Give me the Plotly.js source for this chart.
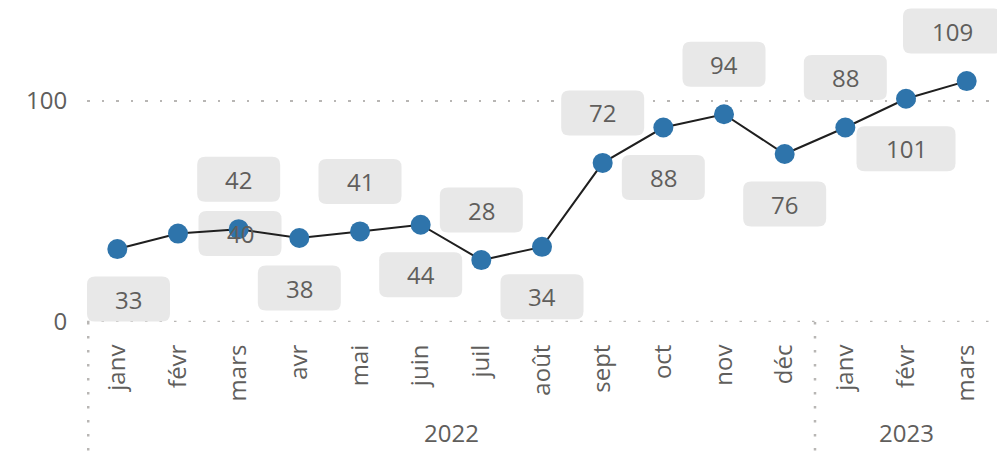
<!DOCTYPE html>
<html>
<head>
<meta charset="utf-8">
<script src="https://cdn.plot.ly/plotly-3.0.1.min.js"></script>
<style>html,body{margin:0;padding:0;background:#fff;}#chart{width:1002px;height:458px;}</style>
</head>
<body>
<div id="chart"></div>
<script>
// ---- data ----
const months = ['janv','févr','mars','avr','mai','juin','juil','août','sept','oct','nov','déc','janv','févr','mars'];
const yearOf = ['2022','2022','2022','2022','2022','2022','2022','2022','2022','2022','2022','2022','2023','2023','2023'];
const values = [33,40,42,38,41,44,28,34,72,88,94,76,88,101,109];
const labelSide = ['below','right','above','below','above','below','above','below','above','below','above','below','above','below','above'];
const yTicks = [0,100];

// ---- layout constants ----
const W = 1002, H = 458;
const M = {l:87, r:5, t:0, b:136};
const plotW = W - M.l - M.r, plotH = H - M.t - M.b;
const catW = plotW / months.length;
const textColor = '#605E5C';
const dotColor = '#B8B6B4';
const fontFam = '"Segoe UI", "Open Sans", sans-serif';
const fs = 24;

const idx = months.map((_, i) => i);

const shapes = [];
const annotations = [];

// baseline (0 gridline, drawn explicitly since it sits on the plot edge)
shapes.push({
  type: 'line', xref: 'paper', yref: 'y', x0: 0, x1: 1, y0: yTicks[0], y1: yTicks[0],
  line: {color: dotColor, width: 2.5, dash: '2.5px,12px'}, layer: 'below'
});

// data labels with rounded grey boxes
values.forEach((v, i) => {
  const txt = String(v);
  const bw = 51 + 16 * txt.length, bh = 45, r = 8;
  let dx = 0, dy = 0;
  if (labelSide[i] === 'above') dy = 50;
  else if (labelSide[i] === 'below') dy = -50;
  else { dx = 62; dy = 0; }
  const px = (i + 0.5) * catW;
  dx = Math.max(dx, bw / 2 - px);
  dx = Math.min(dx, plotW - bw / 2 - px + 5);
  const x0 = dx - bw / 2, x1 = dx + bw / 2, y0 = dy - bh / 2, y1 = dy + bh / 2;
  const path = `M${x0 + r},${y0} L${x1 - r},${y0} Q${x1},${y0} ${x1},${y0 + r} L${x1},${y1 - r} Q${x1},${y1} ${x1 - r},${y1} L${x0 + r},${y1} Q${x0},${y1} ${x0},${y1 - r} L${x0},${y0 + r} Q${x0},${y0} ${x0 + r},${y0} Z`;
  shapes.push({
    type: 'path', xref: 'x', yref: 'y', xsizemode: 'pixel', ysizemode: 'pixel',
    xanchor: i, yanchor: v, path: path,
    fillcolor: '#E8E8E8', line: {width: 0}, layer: 'between'
  });
  annotations.push({
    x: i, y: v, xref: 'x', yref: 'y', text: txt, showarrow: false,
    xshift: dx, yshift: dy, font: {family: fontFam, size: fs, color: textColor}
  });
});

// year group labels and separators
const groups = [];
yearOf.forEach((y, i) => {
  if (!groups.length || groups[groups.length - 1].label !== y) groups.push({label: y, start: i, end: i});
  else groups[groups.length - 1].end = i;
});
groups.forEach((g, k) => {
  annotations.push({
    x: (g.start + g.end) / 2, y: 0, xref: 'x', yref: 'paper', yanchor: 'middle',
    yshift: -110, text: g.label, showarrow: false,
    font: {family: fontFam, size: fs, color: textColor}
  });
  shapes.push({
    type: 'line', xref: 'x', yref: 'paper', x0: g.start - 0.5 + (k === 0 ? 0.02 : 0), x1: g.start - 0.5 + (k === 0 ? 0.02 : 0),
    y0: 0, y1: -(M.b / plotH), line: {color: dotColor, width: 2.5, dash: '2.5px,11.5px'}
  });
});

const trace = {
  x: idx, y: values, type: 'scatter', mode: 'lines+markers',
  line: {color: '#1f1f1f', width: 2},
  marker: {size: 20, color: '#2E74AB'},
  hoverinfo: 'skip', cliponaxis: false
};

const layout = {
  width: W, height: H, margin: M,
  paper_bgcolor: '#fff', plot_bgcolor: '#fff',
  showlegend: false,
  font: {family: fontFam, size: fs, color: textColor},
  xaxis: {
    range: [-0.5, months.length - 0.5], tickmode: 'array', tickvals: idx, ticktext: months,
    tickangle: -90, showgrid: false, zeroline: false, showline: false,
    ticks: 'outside', ticklen: 12, tickcolor: 'rgba(0,0,0,0)',
    tickfont: {family: fontFam, size: fs, color: textColor}, fixedrange: true
  },
  yaxis: {
    range: [0, 100 * plotH / (plotH - 101)], tickmode: 'array', tickvals: yTicks,
    showgrid: true, gridcolor: dotColor, gridwidth: 2.5, griddash: '2.5px,12px',
    zeroline: false, showline: false,
    ticks: 'outside', ticklen: 14, tickcolor: 'rgba(0,0,0,0)',
    tickfont: {family: fontFam, size: fs, color: textColor}, fixedrange: true
  },
  shapes: shapes,
  annotations: annotations
};

Plotly.newPlot('chart', [trace], layout, {displayModeBar: false, staticPlot: true});
</script>
</body>
</html>
